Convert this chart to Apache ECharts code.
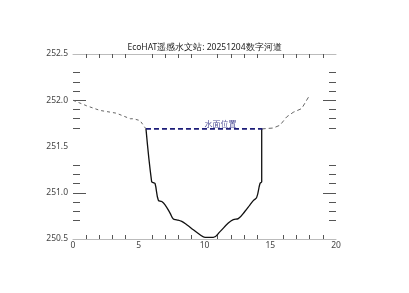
<!DOCTYPE html>
<html><head><meta charset="utf-8">
<script src="https://cdn.jsdelivr.net/npm/echarts@6/dist/echarts.min.js"></script>
<style>html,body{margin:0;padding:0;background:#fff}#c{width:409px;height:293px}</style>
</head><body><div id="c"></div>
<script>
var titleText = 'EcoHAT遥感水文站: 20251204数字河道';
var waterLabel = '水面位置';
var xTickLabels = [0, 5, 10, 15, 20];
var yTickLabels = [250.5, 251.0, 251.5, 252.0, 252.5];
var xMinorTicks = [1,2,3,4,6,7,8,9,11,12,13,14,16,17,18,19];
var yMinorTicks = [250.7,250.8,250.9,251.1,251.2,251.3,251.7,251.8,251.9,252.1,252.2,252.3];
var yMajorTicks = [251.0, 252.0];

var leftBankX = [0, 1.04, 2.05, 3.3, 4.35, 4.6, 5.1, 5.35, 5.55];
var leftBankY = [252.0, 251.94, 251.89, 251.86, 251.80, 251.80, 251.78, 251.73, 251.69];
var channelX = [5.55, 5.98, 6.1, 6.24, 6.49, 6.75, 7.0, 7.38, 7.63, 7.89, 8.27, 8.65, 9.15, 9.66, 10.04, 10.67, 11.18, 11.81, 12.19, 12.57, 13.08, 13.46, 13.71, 13.97, 14.22, 14.35, 14.35];
var channelY = [251.69, 251.12, 251.11, 251.10, 250.92, 250.905, 250.87, 250.78, 250.716, 250.708, 250.69, 250.654, 250.60, 250.546, 250.517, 250.517, 250.58, 250.673, 250.71, 250.72, 250.80, 250.87, 250.915, 250.95, 251.10, 251.12, 251.69];
var rightBankX = [14.35, 15.23, 15.74, 16.25, 16.75, 17.39, 17.64, 18.02];
var rightBankY = [251.69, 251.70, 251.73, 251.82, 251.87, 251.91, 251.97, 252.06];
var waterX = [5.55, 14.4];
var waterY = [251.69, 251.69];
var waterLabelX = 10.0;

function zip(a, b) { return a.map(function (v, i) { return [v, b[i]]; }); }

var FONT = 'Noto Sans';
var labelColor = '#444';
var tickColor = '#555';
var axisLineColor = '#bbb';

var chart = echarts.init(document.getElementById('c'), null, {renderer: 'canvas'});
var grid = {left: 73, right: 73, top: 54, bottom: 54, containLabel: false};

function yAx(pos, showLabel, ticks, len) {
  return {
    type: 'value', position: pos, min: 250.5, max: 252.5, interval: 0.5,
    splitLine: {show: false}, axisLine: {show: false},
    axisTick: {show: true, inside: true, length: len, customValues: ticks, lineStyle: {color: tickColor, width: 1}},
    axisLabel: {show: showLabel, color: labelColor, fontSize: 8.5, fontFamily: FONT, margin: 5,
      formatter: function (v) { return v.toFixed(1); }, customValues: yTickLabels}
  };
}
function xAx(pos, showLabel) {
  return {
    type: 'value', position: pos, min: 0, max: 20, interval: 5,
    splitLine: {show: false},
    axisLine: {show: true, onZero: false, lineStyle: {color: axisLineColor, width: 1}},
    axisTick: {show: true, inside: true, length: 4, customValues: xMinorTicks, lineStyle: {color: tickColor, width: 1}},
    axisLabel: {show: showLabel, color: labelColor, fontSize: 8.5, fontFamily: FONT, margin: 2, customValues: xTickLabels}
  };
}

chart.setOption({
  animation: false,
  backgroundColor: '#fff',
  title: {text: titleText, left: 'center', top: 38,
    textStyle: {fontSize: 8.5, fontWeight: 'normal', color: '#222', fontFamily: FONT}},
  grid: grid,
  xAxis: [xAx('bottom', true), xAx('top', false)],
  yAxis: [yAx('left', true, yMinorTicks, 7), yAx('left', false, yMajorTicks, 13),
          yAx('right', false, yMinorTicks, 7), yAx('right', false, yMajorTicks, 13)],
  series: [
    {type: 'line', data: zip(leftBankX, leftBankY), showSymbol: false, symbol: 'none',
     lineStyle: {color: '#666', width: 1, type: [3, 3]}},
    {type: 'line', data: zip(rightBankX, rightBankY), showSymbol: false, symbol: 'none',
     lineStyle: {color: '#666', width: 1, type: [4, 3]}},
    {type: 'line', data: zip(channelX, channelY), showSymbol: false, symbol: 'none', smooth: 0.4,
     lineStyle: {color: '#111', width: 1.3}},
    {type: 'line', data: zip(waterX, waterY), showSymbol: false, symbol: 'none',
     lineStyle: {color: '#1c1c78', width: 1.8, type: [5, 3]}},
    {type: 'scatter', data: [[waterLabelX, waterY[0]]], symbolSize: 0,
     label: {show: true, position: 'top', distance: 1, align: 'left', formatter: waterLabel,
       color: '#1c1c78', fontSize: 8, fontFamily: 'Noto Sans CJK SC'}}
  ]
});
</script></body></html>
